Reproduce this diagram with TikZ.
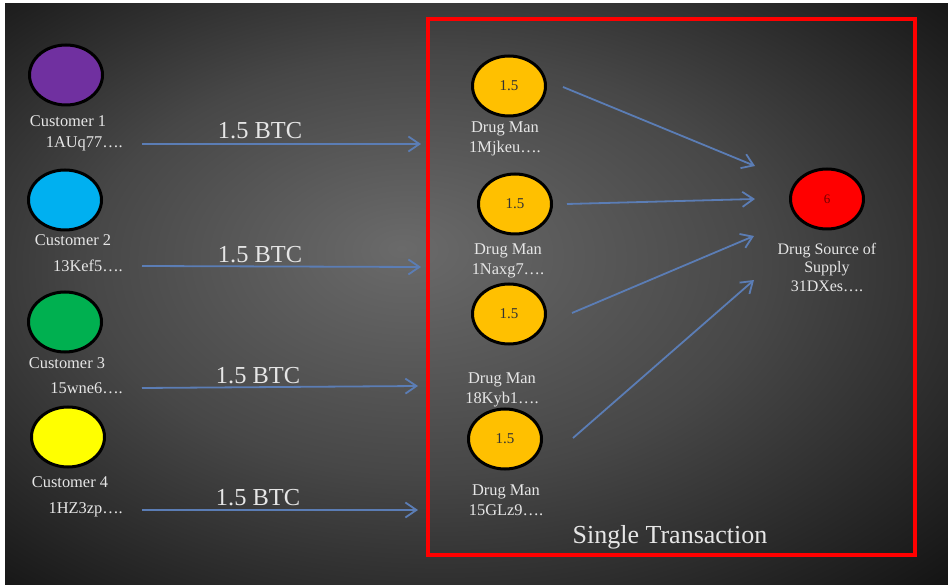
\documentclass[tikz,border=0pt]{standalone}
\usepackage{fontspec}
\setmainfont{Liberation Serif}
\usetikzlibrary{arrows.meta,calc,shapes.geometric}
\definecolor{glowc}{HTML}{6A6A6A}
\definecolor{midc}{HTML}{474747}
\definecolor{flowc}{HTML}{5B7DB5}
\definecolor{labc}{HTML}{E6E6E6}
\definecolor{cpur}{HTML}{7030A0}
\definecolor{ccya}{HTML}{00B0F0}
\definecolor{cgrn}{HTML}{00B050}
\definecolor{cyel}{HTML}{FFFF00}
\definecolor{dorg}{HTML}{FFC000}
\definecolor{sred}{HTML}{FF0000}
\pgfdeclareradialshading{bgglow}{\pgfpoint{-4bp}{4bp}}{color(0bp)=(glowc); color(18bp)=(midc); color(44bp)=(black); color(50bp)=(black)}
\tikzset{
  >={Straight Barb[length=11pt,width=15pt]},
  cu/.style={ellipse,draw=black,line width=3pt,minimum width=73pt,minimum height=60pt,inner sep=0pt},
  dm/.style={cu,fill=dorg,text=black!80,font=\fontsize{15}{15}\selectfont},
  lb/.style={text=labc,font=\fontsize{16.4}{20}\selectfont,inner sep=0pt,align=center},
  btc/.style={text=labc,font=\fontsize{24.4}{24}\selectfont,inner sep=0pt},
  fl/.style={->,draw=flowc,line width=1.8pt},
}
\begin{document}
\begin{tikzpicture}[x=1pt,y=-1pt]
\useasboundingbox (0,0) rectangle (948,585);
\fill[white] (0,0) rectangle (948,585);
\shade[shading=bgglow] (5,4) rectangle (948,585);
\draw[sred,line width=3.5pt] (428,19) rectangle (915,555);
\node[cu,fill=cpur] (c1) at (66,75){}; \node[cu,fill=ccya] (c2) at (65,200){};
\node[cu,fill=cgrn] (c3) at (65,322){}; \node[cu,fill=cyel] (c4) at (68,437){};
\node[lb] (n1) at (68,121){Customer 1}; \node[lb,anchor=east] (a1) at (123,144){1AUq77\ldots.};
\node[lb] (n2) at (73,240){Customer 2}; \node[lb,anchor=east] (a2) at (123,266){13Kef5\ldots.};
\node[lb] (n3) at (67,363){Customer 3}; \node[lb,anchor=east] (a3) at (123,388){15wne6\ldots.};
\node[lb] (n4) at (70,482){Customer 4}; \node[lb,anchor=east] (a4) at (123,510){1HZ3zp\ldots.};
\node[btc] (b1) at (260,131){1.5 BTC}; \node[btc] (b2) at (260,255){1.5 BTC};
\node[btc] (b3) at (258,376){1.5 BTC}; \node[btc] (b4) at (258,498){1.5 BTC};
\coordinate (e1) at (421,144); \coordinate (e2) at (421,267);
\coordinate (e3) at (418,386); \coordinate (e4) at (418,510);
\node[dm] (m1) at (509,86){1.5}; \node[dm] (m2) at (515,204){1.5};
\node[dm] (m3) at (509,314){1.5}; \node[dm] (m4) at (505,439){1.5};
\node[lb] (l1) at (505,139){Drug Man\\1Mjkeu\ldots.}; \node[lb] (l2) at (508,261){Drug Man\\1Naxg7\ldots.};
\node[lb] (l3) at (502,390){Drug Man\\18Kyb1\ldots.}; \node[lb] (l4) at (506,500){Drug Man\\15GLz9\ldots.};
\node[cu,fill=sred,text=red!45!black,font=\fontsize{13}{13}\selectfont] (s) at (827,199){6};
\node[lb,font=\fontsize{16}{18.5}\selectfont] (sl) at (827,267){Drug Source of\\Supply\\31DXes\ldots.};
\coordinate (t1) at (755,166); \coordinate (t2) at (755,199);
\coordinate (t3) at (754,236); \coordinate (t4) at (754,280);
\draw[fl] ([xshift=19pt]a1.east) -- (e1); \draw[fl] ([xshift=19pt]a2.east) -- (e2);
\draw[fl] ([xshift=19pt]a3.east) -- (e3); \draw[fl] ([xshift=19pt]a4.east) -- (e4);
\draw[fl] ($(m1.east)+(16,1)$) -- (t1); \draw[fl] ($(m2.east)+(14,0)$) -- (t2);
\draw[fl] ($(m3.east)+(25,-1)$) -- (t3); \draw[fl] ($(m4.east)+(30,-1)$) -- (t4);
\node[text=labc,font=\fontsize{26}{26}\selectfont] (st) at (670,537){Single Transaction};
\end{tikzpicture}
\end{document}
